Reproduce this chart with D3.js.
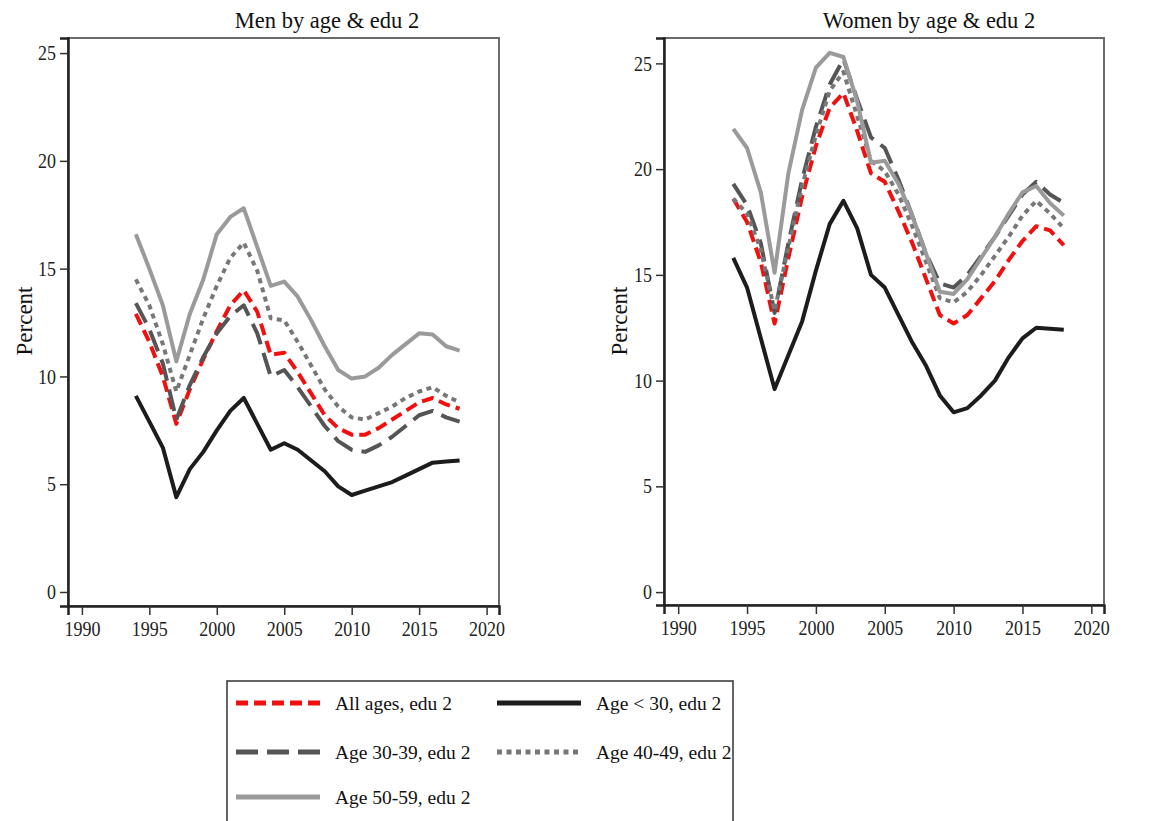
<!DOCTYPE html>
<html>
<head>
<meta charset="utf-8">
<script src="https://cdn.jsdelivr.net/npm/d3@7"></script>
<style>
  body { margin: 0; background: #fff; }
  svg { font-family: "Liberation Serif", "DejaVu Serif", serif; }
</style>
</head>
<body>
<div class="container"></div>
<script>

const years = [1994, 1995, 1996, 1997, 1998, 1999, 2000, 2001, 2002, 2003, 2004, 2005, 2006,
               2007, 2008, 2009, 2010, 2011, 2012, 2013, 2014, 2015, 2016, 2017, 2018];

// men, edu 2
const menAll  = [12.9, 11.6, 10.0, 7.8, 9.4, 10.8, 12.1, 13.3, 14.0, 13.0, 11.0, 11.1, 10.2,
                 9.2, 8.2, 7.6, 7.3, 7.3, 7.6, 8.0, 8.4, 8.8, 9.0, 8.7, 8.5];
const menU30  = [9.1, 7.9, 6.7, 4.4, 5.7, 6.5, 7.5, 8.4, 9.0, 7.8, 6.6, 6.9, 6.6,
                 6.1, 5.6, 4.9, 4.5, 4.7, 4.9, 5.1, 5.4, 5.7, 6.0, 6.05, 6.1];
const men3039 = [13.4, 12.2, 10.6, 8.0, 9.6, 10.9, 12.0, 12.8, 13.3, 12.0, 10.0, 10.3, 9.5,
                 8.6, 7.7, 7.0, 6.6, 6.5, 6.8, 7.2, 7.7, 8.2, 8.4, 8.1, 7.9];
const men4049 = [14.5, 13.3, 11.5, 9.3, 11.0, 12.7, 14.2, 15.5, 16.2, 14.9, 12.7, 12.6, 11.6,
                 10.5, 9.4, 8.6, 8.1, 8.0, 8.3, 8.6, 9.0, 9.3, 9.5, 9.1, 8.8];
const men5059 = [16.6, 15.0, 13.3, 10.7, 12.9, 14.5, 16.6, 17.4, 17.8, 16.0, 14.2, 14.4, 13.7,
                 12.6, 11.4, 10.3, 9.9, 10.0, 10.4, 11.0, 11.5, 12.0, 11.95, 11.4, 11.2];

// women, edu 2
const womenAll  = [18.6, 17.5, 15.6, 12.7, 15.8, 18.7, 21.1, 22.9, 23.6, 21.8, 19.8, 19.4, 18.0,
                   16.5, 14.8, 13.1, 12.7, 13.1, 13.9, 14.7, 15.7, 16.6, 17.3, 17.1, 16.4];
const womenU30  = [15.8, 14.4, 12.0, 9.6, 11.2, 12.8, 15.2, 17.4, 18.5, 17.2, 15.0, 14.4, 13.1,
                   11.8, 10.7, 9.3, 8.5, 8.7, 9.3, 10.0, 11.1, 12.0, 12.5, 12.45, 12.4];
const women3039 = [19.3, 18.3, 16.5, 13.2, 16.5, 19.5, 22.0, 24.0, 25.2, 23.3, 21.5, 21.0, 19.5,
                   17.8, 16.0, 14.6, 14.4, 15.0, 15.9, 16.8, 17.8, 18.8, 19.4, 18.8, 18.4];
const women4049 = [18.6, 17.9, 16.2, 13.3, 16.3, 19.2, 21.6, 23.7, 24.6, 22.5, 20.4, 19.9, 18.8,
                   17.3, 15.6, 13.9, 13.7, 14.2, 15.0, 15.9, 16.8, 17.8, 18.5, 17.9, 17.2];
const women5059 = [21.9, 21.0, 18.9, 15.1, 19.8, 22.8, 24.8, 25.5, 25.3, 23.2, 20.3, 20.4, 19.3,
                   17.8, 16.0, 14.2, 14.1, 14.8, 15.8, 16.8, 17.9, 18.9, 19.2, 18.4, 17.8];

const seriesLabels = ['All ages, edu 2', 'Age < 30, edu 2', 'Age 30-39, edu 2',
                      'Age 40-49, edu 2', 'Age 50-59, edu 2'];
const xTicks = [1990, 1995, 2000, 2005, 2010, 2015, 2020];
const yTicks = [0, 5, 10, 15, 20, 25];
const panelTitles = ['Men by age & edu 2', 'Women by age & edu 2'];

const styles = [
  { color: '#f01010', width: 4, dash: '12,6' },
  { color: '#1c1c1c', width: 4, dash: null },
  { color: '#555555', width: 4, dash: '22,9' },
  { color: '#777777', width: 4, dash: '5,4.5' },
  { color: '#9a9a9a', width: 4, dash: null }
];

const width = 1159;
const height = 821;

const svg = d3.select('.container')
  .append('svg')
  .attr('width', width)
  .attr('height', height);

const panels = [
  { title: panelTitles[0], series: [menAll, menU30, men3039, men4049, men5059],
    left: 68, right: 499, top: 38, bottom: 606, yMax: 25.7, yMin: -0.65,
    titleX: 327, labelX: 24 },
  { title: panelTitles[1], series: [womenAll, womenU30, women3039, women4049, women5059],
    left: 664, right: 1104, top: 38, bottom: 605, yMax: 26.2, yMin: -0.61,
    titleX: 929, labelX: 619 }
];

panels.forEach(p => {
  const xScale = d3.scaleLinear()
    .domain([1988.97, 2020.92])
    .range([p.left, p.right]);
  const yScale = d3.scaleLinear()
    .domain([p.yMin, p.yMax])
    .range([p.bottom, p.top]);

  const g = svg.append('g');

  // frame
  g.append('rect')
    .attr('x', p.left).attr('y', p.top)
    .attr('width', p.right - p.left).attr('height', p.bottom - p.top)
    .attr('fill', 'none').attr('stroke', '#6a6a6a').attr('stroke-width', 2);

  const yAxis = g.append('g')
    .attr('transform', `translate(${p.left},0)`)
    .call(d3.axisLeft(yScale).tickValues(yTicks).tickSize(8).tickPadding(4));
  const xAxis = g.append('g')
    .attr('transform', `translate(0,${p.bottom})`)
    .call(d3.axisBottom(xScale).tickValues(xTicks).tickFormat(d3.format('d')).tickSize(9).tickPadding(4));

  [yAxis, xAxis].forEach(ax => {
    ax.select('.domain').attr('stroke', '#222').attr('stroke-width', 2.5);
    ax.selectAll('.tick line').attr('stroke', '#333').attr('stroke-width', 1.5);
    ax.selectAll('.tick text')
      .attr('fill', '#222')
      .attr('transform', 'scale(1,1.15)')
      .style('font-size', '18px')
      .style('font-family', '"Liberation Serif", serif');
  });

  g.append('text')
    .attr('x', p.titleX).attr('y', 28)
    .attr('text-anchor', 'middle')
    .style('font-size', '22.5px')
    .attr('fill', '#111')
    .text(p.title);

  g.append('text')
    .attr('transform', `translate(${p.labelX + 8},321) rotate(-90)`)
    .attr('text-anchor', 'middle')
    .style('font-size', '23px')
    .attr('fill', '#111')
    .text('Percent');

  const line = d3.line()
    .x((d, i) => xScale(years[i]))
    .y(d => yScale(d));

  p.series.forEach((s, k) => {
    g.append('path')
      .datum(s)
      .attr('d', line)
      .attr('fill', 'none')
      .attr('stroke', styles[k].color)
      .attr('stroke-width', styles[k].width)
      .attr('stroke-dasharray', styles[k].dash)
      .attr('stroke-linejoin', 'round');
  });
});

// legend
const legend = svg.append('g');
legend.append('rect')
  .attr('x', 227).attr('y', 681)
  .attr('width', 506).attr('height', 160)
  .attr('fill', 'none').attr('stroke', '#333').attr('stroke-width', 1.5);

const legendPos = [
  { x: 236, y: 703 }, { x: 497, y: 703 },
  { x: 236, y: 752 }, { x: 497, y: 752 },
  { x: 236, y: 797 }
];

seriesLabels.forEach((label, k) => {
  const pos = legendPos[k];
  legend.append('line')
    .attr('x1', pos.x).attr('x2', pos.x + 84)
    .attr('y1', pos.y).attr('y2', pos.y)
    .attr('stroke', styles[k].color)
    .attr('stroke-width', 5)
    .attr('stroke-dasharray', styles[k].dash);
  legend.append('text')
    .attr('x', pos.x + 99).attr('y', pos.y + 7)
    .style('font-size', '19.5px')
    .attr('fill', '#111')
    .text(label);
});

</script>
</body>
</html>
